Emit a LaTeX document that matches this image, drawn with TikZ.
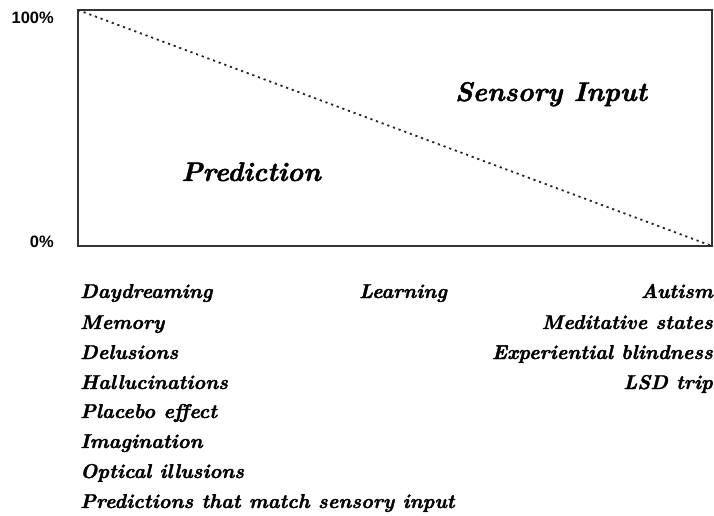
\documentclass[tikz,border=0pt]{standalone}
\usepackage{fontspec}
\setmainfont{Latin Modern Roman}[BoldItalicFeatures={FakeBold=1.6}]
\newfontfamily\pctfont{Liberation Sans}
\begin{document}
\begin{tikzpicture}[x=1pt,y=-1pt,
  frame/.style={draw=black!80,line width=1.8pt},
  split/.style={draw=black!85,line width=1.8pt,dash pattern=on 2.2pt off 3.8pt},
  pct/.style={font=\pctfont\bfseries\fontsize{16.5}{19}\selectfont,inner sep=0pt,anchor=base east},
  region/.style={font=\bfseries\itshape\fontsize{27}{32}\selectfont,inner sep=0pt,anchor=base},
  item/.style={font=\bfseries\itshape\fontsize{20}{24}\selectfont,inner sep=0pt}]
\useasboundingbox (0,0) rectangle (714,516);
% axes box
\coordinate (tl) at (78,10);
\coordinate (br) at (712,246);
\draw[frame] (tl) rectangle (br);
\draw[split] (tl) -- (br);
% scale labels
\node[pct] (top) at (54,24) {100\%};
\node[pct] (bottom) at (54,247) {0\%};
% regions
\node[region] (pred) at (251,181) {Prediction};
\node[region] (sens) at (551,101) {Sensory Input};
% left column
\node[item,anchor=base west] (l1) at (80,298) {Daydreaming};
\node[item,anchor=base west] (l2) at (80,329) {Memory};
\node[item,anchor=base west] (l3) at (80,359) {Delusions};
\node[item,anchor=base west] (l4) at (80,389) {Hallucinations};
\node[item,anchor=base west] (l5) at (80,418) {Placebo effect};
\node[item,anchor=base west] (l6) at (80,448) {Imagination};
\node[item,anchor=base west] (l7) at (80,478) {Optical illusions};
\node[item,anchor=base west] (l8) at (80,508) {Predictions that match sensory input};
% middle
\node[item,anchor=base] (m1) at (403,298) {Learning};
% right column
\node[item,anchor=base east] (r1) at (713,298) {Autism};
\node[item,anchor=base east] (r2) at (713,329) {Meditative states};
\node[item,anchor=base east] (r3) at (713,359) {Experiential blindness};
\node[item,anchor=base east] (r4) at (713,389) {LSD trip};
\end{tikzpicture}
\end{document}
